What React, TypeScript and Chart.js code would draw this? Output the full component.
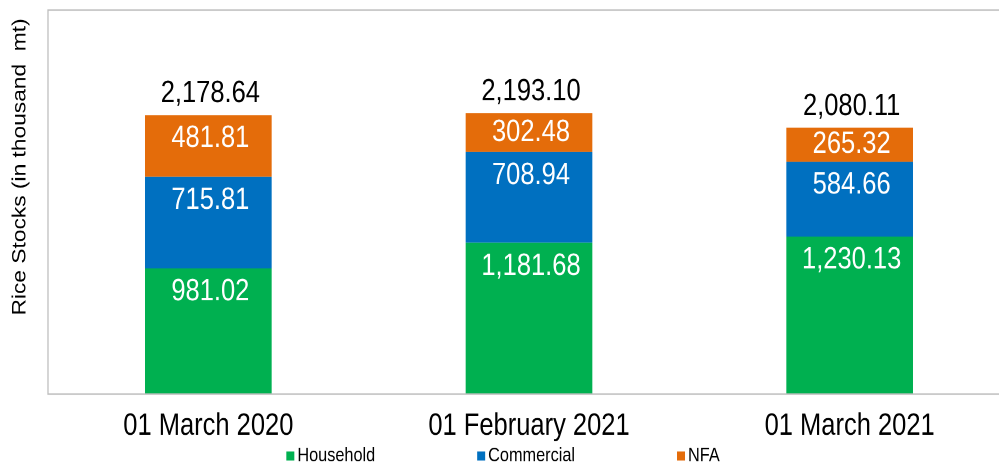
import React, { useEffect, useRef } from "react";
import { Chart, registerables } from "chart.js";

Chart.register(...registerables);

// ---- data ----
const categories = ["01 March 2020", "01 February 2021", "01 March 2021"];
const household = [981.02, 1181.68, 1230.13];
const commercial = [715.81, 708.94, 584.66];
const nfa = [481.81, 302.48, 265.32];
const totals = [2178.64, 2193.1, 2080.11];
const seriesNames = ["Household", "Commercial", "NFA"];
const seriesColors = ["#00B050", "#0070C0", "#E46C0A"];
const yAxisTitle = "Rice Stocks (in thousand  mt)";
const yMin = 0;
const yMax = 3000;

// ---- layout constants ----
const CANVAS_W = 1012;
const CANVAS_H = 395;
const SCALE_Y = 466 / CANVAS_H;
const FONT = '"Liberation Sans", Arial, Helvetica, sans-serif';
const VALUE_FONT = 25.5;

const fmt = (v: number) =>
  v.toLocaleString("en-US", { minimumFractionDigits: 2, maximumFractionDigits: 2 });

const overlayPlugin = {
  id: "overlay",
  afterDatasetsDraw(chart: any) {
    const ctx = chart.ctx as CanvasRenderingContext2D;
    const area = chart.chartArea;
    ctx.save();
    // plot border
    ctx.strokeStyle = "#BFBFBF";
    ctx.lineWidth = 1.3;
    ctx.strokeRect(area.left, area.top, area.right - area.left, area.bottom - area.top);

    // segment labels
    ctx.font = `${VALUE_FONT}px ${FONT}`;
    ctx.textAlign = "center";
    ctx.textBaseline = "middle";
    chart.data.datasets.forEach((ds: any, di: number) => {
      const meta = chart.getDatasetMeta(di);
      meta.data.forEach((bar: any, i: number) => {
        const p = bar.getProps(["x", "y", "base"], true);
        const top = Math.min(p.y, p.base);
        const bottom = Math.max(p.y, p.base);
        const cy = Math.min((top + bottom) / 2, top + 20);
        ctx.fillStyle = "#FFFFFF";
        ctx.fillText(fmt(ds.data[i]), p.x + 2, cy);
      });
    });

    // totals
    const lastMeta = chart.getDatasetMeta(chart.data.datasets.length - 1);
    lastMeta.data.forEach((bar: any, i: number) => {
      const p = bar.getProps(["x", "y"], true);
      ctx.fillStyle = "#000000";
      ctx.fillText(fmt(totals[i]), p.x + 2, p.y - 18);
    });
    ctx.restore();
  },
  afterDraw(chart: any) {
    const ctx = chart.ctx as CanvasRenderingContext2D;
    ctx.save();
    // y axis title
    ctx.font = `19.3px ${FONT}`;
    ctx.fillStyle = "#000000";
    ctx.textAlign = "center";
    ctx.textBaseline = "middle";
    ctx.translate(20, 141.5);
    ctx.rotate(-Math.PI / 2);
    ctx.fillText(yAxisTitle, 0, 0);
    ctx.restore();

    // legend
    ctx.save();
    ctx.font = `16.3px ${FONT}`;
    ctx.textBaseline = "middle";
    ctx.textAlign = "left";
    const box = 8;
    const gapText = 3;
    const gapItem = 102;
    const widths = seriesNames.map((n) => box + gapText + ctx.measureText(n).width);
    const total = widths.reduce((a, b) => a + b, 0) + gapItem * (widths.length - 1);
    let x = chart.width / 2 - 3 - total / 2;
    const cy = 386.5;
    seriesNames.forEach((n, i) => {
      ctx.fillStyle = seriesColors[i];
      ctx.fillRect(x, cy - 3.8, box, 7.6);
      ctx.fillStyle = "#000000";
      ctx.fillText(n, x + box + gapText, cy);
      x += widths[i] + gapItem;
    });
    ctx.restore();
  },
};

export default function App() {
  const canvasRef = useRef<HTMLCanvasElement | null>(null);

  useEffect(() => {
    if (!canvasRef.current) return;
    const seriesData = [household, commercial, nfa];
    const chart = new Chart(canvasRef.current, {
      type: "bar",
      data: {
        labels: categories,
        datasets: seriesNames.map((name, i) => ({
          label: name,
          data: seriesData[i],
          backgroundColor: seriesColors[i],
          borderWidth: 0,
          categoryPercentage: 1,
          barPercentage: 0.395,
        })),
      },
      options: {
        responsive: false,
        animation: false,
        devicePixelRatio: 2,
        layout: { padding: { top: 8.5, right: 2, bottom: 0, left: 0 } },
        plugins: {
          legend: { display: false },
          tooltip: { enabled: false },
          title: { display: false },
        },
        scales: {
          x: {
            stacked: true,
            grid: { display: false, drawTicks: false },
            border: { display: false },
            ticks: {
              color: "#000000",
              font: { family: FONT, size: VALUE_FONT },
              padding: 12,
              maxRotation: 0,
              autoSkip: false,
            },
            afterFit(scale: any) {
              scale.height = 61;
            },
          },
          y: {
            stacked: true,
            min: yMin,
            max: yMax,
            grid: { display: false, drawTicks: false },
            border: { display: false },
            ticks: { display: false },
            afterFit(scale: any) {
              scale.width = 48;
            },
          },
        },
      },
      plugins: [overlayPlugin],
    });
    return () => chart.destroy();
  }, []);

  return (
    <div
      style={{
        position: "fixed",
        left: 0,
        top: 0,
        width: 999,
        height: 466,
        overflow: "hidden",
        background: "#FFFFFF",
      }}
    >
      <div
        style={{
          width: CANVAS_W,
          height: CANVAS_H,
          transform: `scaleY(${SCALE_Y})`,
          transformOrigin: "0 0",
        }}
      >
        <canvas
          ref={canvasRef}
          width={CANVAS_W}
          height={CANVAS_H}
          style={{ display: "block", width: CANVAS_W, height: CANVAS_H }}
        />
      </div>
    </div>
  );
}
